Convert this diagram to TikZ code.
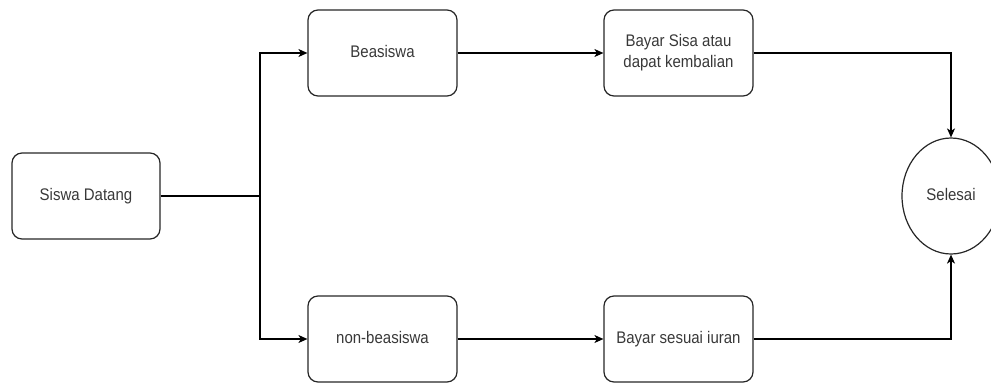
\documentclass[tikz,border=0pt]{standalone}
\usepackage{fontspec}
\setmainfont{Liberation Sans}
\usetikzlibrary{arrows.meta,shapes.geometric}
\newcommand{\lbl}[1]{\scalebox{1}[1.12]{\begin{tabular}{@{}c@{}}#1\end{tabular}}}
\begin{document}
\begin{tikzpicture}[x=1pt,y=-1pt,
  every node/.style={font=\fontsize{15}{18}\selectfont, text=black!78},
  box/.style={draw=black!85, line width=1.2pt, rounded corners=10pt, minimum width=149pt, minimum height=86pt, inner sep=0pt, align=center},
  endnode/.style={draw=black!85, line width=1.2pt, ellipse, minimum width=98pt, minimum height=116pt, inner sep=0pt},
  conn/.style={draw=black, line width=1.2pt},
  arr/.style={conn, -{Stealth[length=9pt,width=8pt,inset=2.5pt]}}]
\clip (0,0) rectangle (991,383);
\useasboundingbox (0,0) rectangle (991,383);
\node[box, minimum width=148pt] (siswa) at (86,196) {\lbl{Siswa Datang}};
\node[box] (beas) at (382.5,53) {\lbl{Beasiswa}};
\node[box] (sisa) at (678.5,53) {\lbl{Bayar Sisa atau\\dapat kembalian}};
\node[box] (non) at (382.5,339) {\lbl{non-beasiswa}};
\node[box] (iuran) at (678.5,339) {\lbl{Bayar sesuai iuran}};
\node[endnode] (selesai) at (951,196) {\lbl{Selesai}};
\coordinate (split) at (260,196);
\draw[conn] (siswa.east) -- (split);
\draw[arr] (split) |- (beas.west);
\draw[arr] (split) |- (non.west);
\draw[arr] (beas.east) -- (sisa.west);
\draw[arr] (non.east) -- (iuran.west);
\draw[arr] (sisa.east) -| (selesai.north);
\draw[arr] (iuran.east) -| (selesai.south);
\end{tikzpicture}
\end{document}
